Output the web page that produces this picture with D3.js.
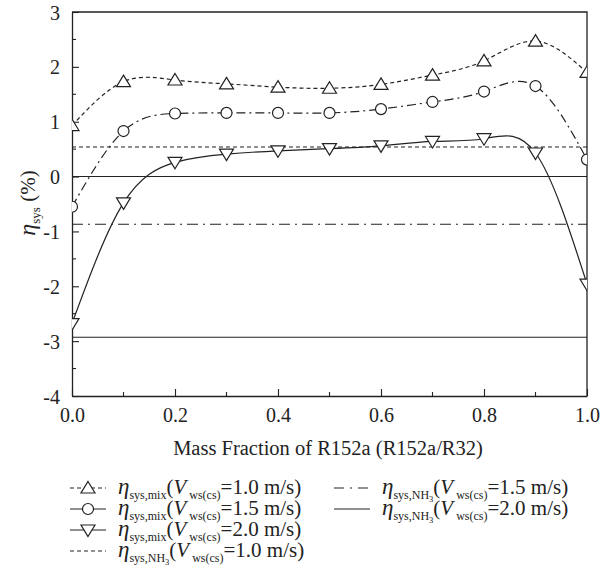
<!DOCTYPE html>
<html>
<head>
<meta charset="utf-8">
<script src="https://cdn.jsdelivr.net/npm/d3@7"></script>
<style>
  body { margin: 0; background: #fff; }
  text { font-family: "Liberation Serif", "DejaVu Serif", serif; fill: #222; }
</style>
</head>
<body>
<svg width="600" height="582"></svg>
<script>
// mass fraction of R152a
var fractions = [0, 0.1, 0.2, 0.3, 0.4, 0.5, 0.6, 0.7, 0.8, 0.9, 1.0];
// eta_sys,mix for the three water speeds
var mix10 = [0.93, 1.73, 1.76, 1.69, 1.63, 1.61, 1.68, 1.85, 2.11, 2.47, 1.90];
var mix15 = [-0.55, 0.83, 1.15, 1.16, 1.16, 1.16, 1.23, 1.36, 1.55, 1.65, 0.31];
var mix20 = [-2.68, -0.48, 0.26, 0.41, 0.47, 0.51, 0.56, 0.64, 0.69, 0.43, -1.96];
// eta_sys,NH3 reference levels
var nh3Values = [0.54, -0.87, -2.93];
var speeds = ['1.0', '1.5', '2.0'];
var xTicks = [0, 0.2, 0.4, 0.6, 0.8, 1.0];
var yTicks = [-4, -3, -2, -1, 0, 1, 2, 3];

var mLeft = 72, mRight = 587, mTop = 12, mBottom = 396;
var svg = d3.select('svg');
var ink = '#222';

var x = d3.scaleLinear().domain([0, 1]).range([mLeft, mRight]);
var y = d3.scaleLinear().domain([-4, 3]).range([mBottom, mTop]);

/******** axes ********/
var xAxis = d3.axisBottom(x).tickValues(xTicks).tickFormat(d3.format('.1f'))
    .tickSizeInner(-7).tickSizeOuter(0).tickPadding(12);
var gx = svg.append('g').attr('transform', 'translate(0,' + mBottom + ')').call(xAxis);
var yAxis = d3.axisLeft(y).tickValues(yTicks).tickFormat(function(d) { return d; })
    .tickSizeInner(-7).tickSizeOuter(0).tickPadding(12);
var gy = svg.append('g').attr('transform', 'translate(' + mLeft + ',0)').call(yAxis);
[gx, gy].forEach(function(g) {
    g.select('.domain').attr('stroke', ink).attr('stroke-width', 1.3);
    g.selectAll('.tick line').attr('stroke', ink).attr('stroke-width', 1.1);
    g.selectAll('.tick text').style('font-size', '20px').attr('fill', ink)
        .style('font-family', '"Liberation Serif", serif');
});
gy.selectAll('.tick text').attr('dy', '0.35em');
// minor ticks
svg.append('g').selectAll('line')
    .data(d3.range(0.1, 1, 0.2)).enter().append('line')
    .attr('x1', function(d) { return x(d); }).attr('x2', function(d) { return x(d); })
    .attr('y1', mBottom).attr('y2', mBottom - 4)
    .attr('stroke', ink).attr('stroke-width', 1.1);
svg.append('g').selectAll('line')
    .data(d3.range(-3.5, 3, 1)).enter().append('line')
    .attr('y1', function(d) { return y(d); }).attr('y2', function(d) { return y(d); })
    .attr('x1', mLeft).attr('x2', mLeft + 4)
    .attr('stroke', ink).attr('stroke-width', 1.1);
// frame top/right
svg.append('path')
    .attr('d', 'M' + mLeft + ',' + mTop + 'H' + mRight + 'V' + mBottom)
    .attr('fill', 'none').attr('stroke', ink).attr('stroke-width', 1.3);
// zero line
svg.append('line')
    .attr('x1', mLeft).attr('x2', mRight).attr('y1', y(0)).attr('y2', y(0))
    .attr('stroke', ink).attr('stroke-width', 1.1);

/******** series styles ********/
var nh3Dash = ['4,3', '11,5,2,5', null];
var mixDash = ['4,3', '9,4,2,4', null];
var mixData = [mix10, mix15, mix20];
var markerType = ['up', 'circle', 'down'];

// NH3 horizontal lines
svg.append('g').selectAll('line')
    .data(nh3Values).enter().append('line')
    .attr('x1', mLeft).attr('x2', mRight)
    .attr('y1', function(d) { return y(d); }).attr('y2', function(d) { return y(d); })
    .attr('stroke', ink).attr('stroke-width', 1.1)
    .attr('stroke-dasharray', function(d, i) { return nh3Dash[i]; });

var line = d3.line()
    .x(function(d) { return x(d[0]); })
    .y(function(d) { return y(d[1]); })
    .curve(d3.curveNatural);

svg.append('clipPath').attr('id', 'plot')
    .append('rect').attr('x', mLeft).attr('y', mTop)
    .attr('width', mRight - mLeft).attr('height', mBottom - mTop);

function marker(g, type) {
    if (type == 'circle') {
        g.append('circle').attr('r', 5.5);
    } else if (type == 'up') {
        g.append('path').attr('d', 'M0,-6.5L7,5L-7,5Z');
    } else {
        g.append('path').attr('d', 'M0,6.5L7,-5L-7,-5Z');
    }
    g.selectAll('*').attr('fill', '#fff').attr('stroke', ink).attr('stroke-width', 1.2);
}

mixData.forEach(function(vals, k) {
    var pts = fractions.map(function(f, i) { return [f, vals[i]]; });
    svg.append('path')
        .attr('d', line(pts))
        .attr('fill', 'none')
        .attr('stroke', ink).attr('stroke-width', 1.2)
        .attr('stroke-dasharray', mixDash[k])
        .attr('clip-path', 'url(#plot)');
    svg.append('g').attr('clip-path', 'url(#plot)').selectAll('g')
        .data(pts).enter().append('g')
        .attr('transform', function(d) { return 'translate(' + x(d[0]) + ',' + y(d[1]) + ')'; })
        .each(function() { marker(d3.select(this), markerType[k]); });
});

/******** labels ********/
svg.append('text')
    .attr('x', 328).attr('y', 455)
    .attr('text-anchor', 'middle')
    .style('font-size', '20.5px')
    .text('Mass Fraction of R152a (R152a/R32)');

var yl = svg.append('text')
    .attr('transform', 'translate(35,203)rotate(-90)')
    .attr('text-anchor', 'middle')
    .style('font-size', '21px');
yl.append('tspan').style('font-style', 'italic').style('font-size', '24px').text('η');
yl.append('tspan').attr('dy', 5).style('font-size', '13px').text('sys');
yl.append('tspan').attr('dy', -5).text(' (%)');

/******** legend ********/
function etaLabel(t, sub, speed) {
    t.append('tspan').style('font-style', 'italic').style('font-size', '23px').text('η');
    if (sub == 'mix') {
        t.append('tspan').attr('dy', 5).style('font-size', '12px').text('sys,mix');
        t.append('tspan').attr('dy', -5).text('(');
    } else {
        t.append('tspan').attr('dy', 5).style('font-size', '12px').text('sys,NH');
        t.append('tspan').attr('dy', 3).style('font-size', '8.5px').text('3');
        t.append('tspan').attr('dy', -8).text('(');
    }
    t.append('tspan').style('font-style', 'italic').text('V');
    t.append('tspan').attr('dy', 5).attr('dx', 3).style('font-size', '12px').text('ws(cs)');
    t.append('tspan').attr('dy', -5).text('=' + speed + ' m/s)');
}

var legendItems = [
    { col: 0, row: 0, sub: 'mix', speed: speeds[0], dash: mixDash[0], mark: 'up' },
    { col: 0, row: 1, sub: 'mix', speed: speeds[1], dash: null, mark: 'circle' },
    { col: 0, row: 2, sub: 'mix', speed: speeds[2], dash: null, mark: 'down' },
    { col: 0, row: 3, sub: 'nh3', speed: speeds[0], dash: '4,3', mark: null },
    { col: 1, row: 0, sub: 'nh3', speed: speeds[1], dash: '10,6,2,6', mark: null },
    { col: 1, row: 1, sub: 'nh3', speed: speeds[2], dash: null, mark: null }
];
var colX = [70, 334], rowY = [488, 509, 530, 551];

legendItems.forEach(function(it) {
    var g = svg.append('g').attr('transform', 'translate(' + colX[it.col] + ',' + rowY[it.row] + ')');
    g.append('line').attr('x1', 0).attr('x2', 36).attr('y1', 0).attr('y2', 0)
        .attr('stroke', ink).attr('stroke-width', 1.2)
        .attr('stroke-dasharray', it.dash);
    if (it.mark) {
        marker(g.append('g').attr('transform', 'translate(18,0)'), it.mark);
    }
    var t = g.append('text').attr('x', 48).attr('y', 6).style('font-size', '21px');
    etaLabel(t, it.sub, it.speed);
});
</script>
</body>
</html>
